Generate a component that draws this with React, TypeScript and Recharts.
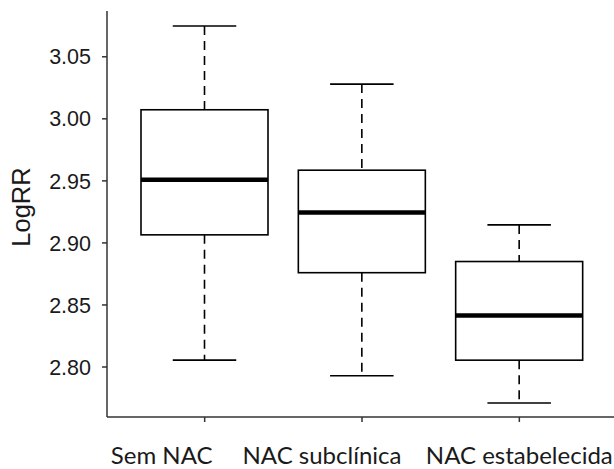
import React from "react";
import { BarChart, Bar, XAxis, YAxis } from "recharts";

const categories = ["Sem NAC", "NAC subclínica", "NAC estabelecida"];
const whiskerLow = [2.8055, 2.793, 2.771];
const quartile1 = [2.9065, 2.876, 2.8055];
const medians = [2.951, 2.9245, 2.8415];
const quartile3 = [3.0073, 2.9586, 2.885];
const whiskerHigh = [3.0748, 3.028, 2.9145];
const yTicks = [2.8, 2.85, 2.9, 2.95, 3.0, 3.05];

const data = categories.map((name, i) => ({
  name,
  lo: whiskerLow[i],
  q1: quartile1[i],
  med: medians[i],
  q3: quartile3[i],
  hi: whiskerHigh[i],
}));

const INK = "#1a1a1a";
// label centres in the source are shifted off the ticks
const labelShift = [-43, -40, 0];

function BoxShape(props: any) {
  const { x, y, width, height, payload } = props;
  const top = Math.min(y, y + height);
  const bot = Math.max(y, y + height);
  const span = payload.hi - payload.lo;
  const py = (v: number) => bot - ((v - payload.lo) / span) * (bot - top);
  const cx = x + width / 2;
  const cap = width / 4;
  return (
    <g>
      <line x1={cx} x2={cx} y1={py(payload.hi)} y2={py(payload.q3)} stroke="#000" strokeWidth={1.6} strokeDasharray="9 6" />
      <line x1={cx} x2={cx} y1={py(payload.q1)} y2={py(payload.lo)} stroke="#000" strokeWidth={1.6} strokeDasharray="9 6" />
      <line x1={cx - cap} x2={cx + cap} y1={py(payload.hi)} y2={py(payload.hi)} stroke="#000" strokeWidth={1.6} />
      <line x1={cx - cap} x2={cx + cap} y1={py(payload.lo)} y2={py(payload.lo)} stroke="#000" strokeWidth={1.6} />
      <rect x={x} y={py(payload.q3)} width={width} height={py(payload.q1) - py(payload.q3)} fill="#fff" stroke="#000" strokeWidth={1.6} />
      <line x1={x} x2={x + width} y1={py(payload.med)} y2={py(payload.med)} stroke="#000" strokeWidth={4.5} />
    </g>
  );
}

function XTick(props: any) {
  const { x, payload, index } = props;
  return (
    <text x={x + labelShift[index]} y={464} textAnchor="middle" fill={INK}
      style={{ fontFamily: "Lato", fontSize: 24 }}>
      {payload.value}
    </text>
  );
}

export default function App() {
  return (
    <div style={{ position: "absolute", left: 0, top: 0, width: 614, height: 469, overflow: "hidden", background: "#fff" }}>
      <BarChart width={630} height={469} data={data} margin={{ top: 11, right: 13, bottom: 0, left: 0 }}>
        <XAxis
          dataKey="name"
          height={52}
          padding={{ left: 19, right: 19 }}
          axisLine={{ stroke: "#333", strokeWidth: 1.5 }}
          tickLine={{ stroke: "#333", strokeWidth: 1.5 }}
          tickSize={5}
          tick={<XTick />}
          interval={0}
        />
        <XAxis
          xAxisId="top"
          orientation="top"
          dataKey="name"
          height={0}
          tick={false}
          tickLine={false}
          axisLine={{ stroke: "#333", strokeWidth: 1.5 }}
        />
        <YAxis
          type="number"
          domain={[2.7597, 3.0869]}
          ticks={yTicks}
          width={107}
          allowDataOverflow
          tickFormatter={(v: number) => v.toFixed(2)}
          axisLine={{ stroke: "#333", strokeWidth: 1.5 }}
          tickLine={{ stroke: "#333", strokeWidth: 1.5 }}
          tickSize={5}
          tickMargin={11}
          tick={{ fill: INK, fontFamily: "Liberation Sans", fontSize: 21.5 }}
          label={{
            content: ({ viewBox }: any) => {
              const cy = viewBox.y + viewBox.height / 2 - 7;
              return (
                <text x={21} y={cy} transform={`rotate(-90 21 ${cy})`} textAnchor="middle"
                  dominantBaseline="central" fill={INK}
                  style={{ fontFamily: "Liberation Sans", fontSize: 25.5 }}>
                  LogRR
                </text>
              );
            },
          }}
        />
        <Bar
          dataKey={(d: any) => [d.lo, d.hi]}
          barSize={127}
          shape={<BoxShape />}
          isAnimationActive={false}
        />
      </BarChart>
    </div>
  );
}
